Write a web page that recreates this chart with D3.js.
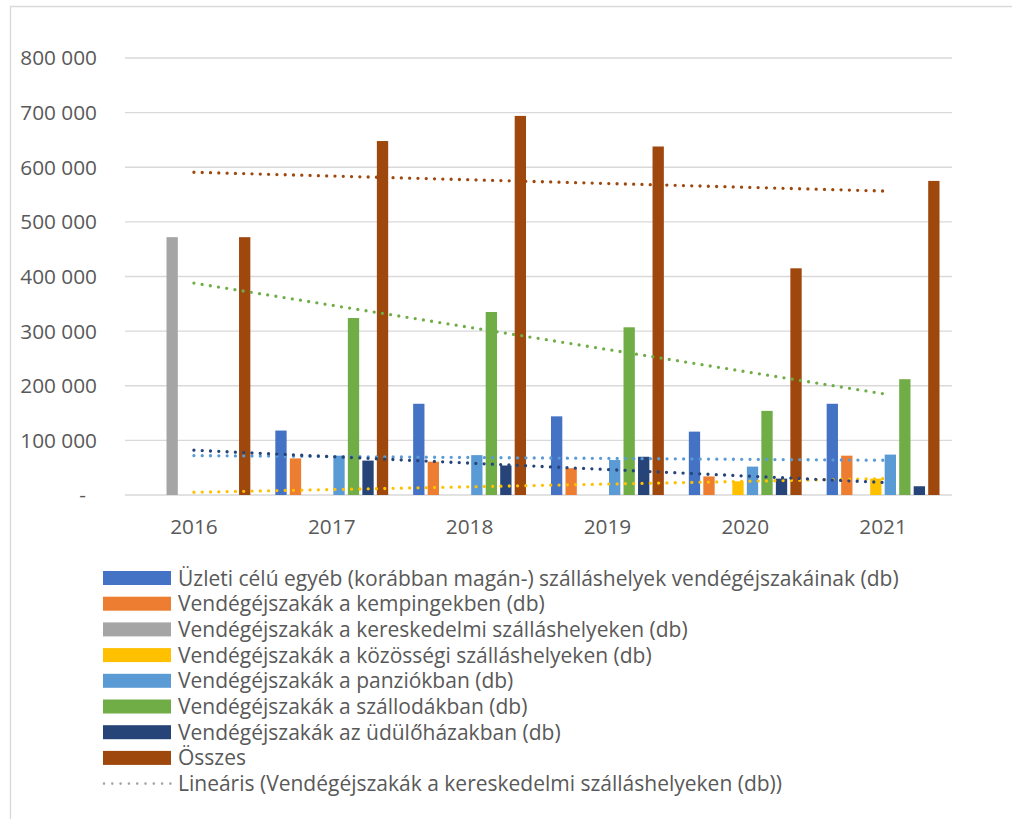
<!DOCTYPE html>
<html>
<head>
    <meta charset="utf-8">
    <script src="https://d3js.org/d3.v7.min.js"></script>
    <style>
        body { margin: 0; background: #fff; overflow: hidden; }
        text { font-family: 'Open Sans', Lato, sans-serif; fill: #595959; }
        .grid line { stroke: #d9d9d9; stroke-width: 1.3px; }
    </style>
</head>
<body>
<svg width="1012" height="819"></svg>
<script>
// DATA ========================================================
const years = ["2016", "2017", "2018", "2019", "2020", "2021"];

const seriesNames = [
    "Üzleti célú egyéb (korábban magán-) szálláshelyek vendégéjszakáinak (db)",
    "Vendégéjszakák a kempingekben (db)",
    "Vendégéjszakák a kereskedelmi szálláshelyeken (db)",
    "Vendégéjszakák a közösségi szálláshelyeken (db)",
    "Vendégéjszakák a panziókban (db)",
    "Vendégéjszakák a szállodákban (db)",
    "Vendégéjszakák az üdülőházakban (db)",
    "Összes"
];

const uzleti      = [null, 118000, 167000, 144000, 116000, 167000];
const kemping     = [null,  67000,  61000,  49000,  34000,  72000];
const kereskedelmi= [472000, null, null, null, null, null];
const kozossegi   = [null, null, null, null, 25000, 30000];
const panzio      = [null,  72000,  73000,  64000,  52000,  74000];
const szalloda    = [null, 324000, 335000, 307000, 154000, 212000];
const udulohaz    = [null,  63000,  54000,  70000,  30000,  16000];
const osszes      = [472000, 648000, 694000, 638000, 415000, 575000];

const seriesValues = [uzleti, kemping, kereskedelmi, kozossegi, panzio, szalloda, udulohaz, osszes];
const colors = ["#4472C4", "#ED7D31", "#A5A5A5", "#FFC000", "#5B9BD5", "#70AD47", "#264478", "#9E480E"];

// series (by index) that carry a linear trend line in the chart
const trendSeries = [3, 4, 5, 6, 7];
const trendLegend = "Lineáris (Vendégéjszakák a kereskedelmi szálláshelyeken (db))";

const yTicks = [0, 100000, 200000, 300000, 400000, 500000, 600000, 700000, 800000];

// SETUP =======================================================
const svg = d3.select("svg");
const plot = { left: 125, right: 952, top: 58, bottom: 495 };

const x0 = d3.scaleBand()
    .domain(years)
    .range([plot.left, plot.right])
    .paddingInner(0.158)
    .paddingOuter(0.079);

const x1 = d3.scaleBand()
    .domain(d3.range(seriesNames.length))
    .range([0, x0.bandwidth()])
    .paddingInner(0.22)
    .paddingOuter(0.11);

const y = d3.scaleLinear()
    .domain([0, 800000])
    .range([plot.bottom, plot.top]);

const fmt = d3.formatLocale({ decimal: ",", thousands: " ", grouping: [3], currency: ["", ""] }).format(",");

// chart border (cropped on the right / bottom)
svg.append("path")
    .attr("d", "M10.5,830 V6.5 H1020")
    .attr("fill", "none")
    .attr("stroke", "#d9d9d9")
    .attr("stroke-width", 1.3);

// GRID + Y AXIS ===============================================
const grid = svg.append("g").attr("class", "grid");
grid.selectAll("line")
    .data(yTicks)
    .join("line")
    .attr("x1", plot.left)
    .attr("x2", plot.right)
    .attr("y1", d => y(d))
    .attr("y2", d => y(d));

svg.append("g")
    .selectAll("text")
    .data(yTicks)
    .join("text")
    .attr("x", d => d === 0 ? 86 : 97)
    .attr("y", d => y(d))
    .attr("dy", "0.36em")
    .attr("text-anchor", "end")
    .style("font-size", "20.8px")
    .text(d => d === 0 ? "-" : fmt(d));

// X AXIS LABELS ===============================================
svg.append("g")
    .selectAll("text")
    .data(years)
    .join("text")
    .attr("x", d => x0(d) + x0.bandwidth() / 2)
    .attr("y", 534)
    .attr("text-anchor", "middle")
    .style("font-size", "20.8px")
    .text(d => d);

// BARS ========================================================
const groups = svg.append("g")
    .selectAll("g")
    .data(years)
    .join("g")
    .attr("transform", d => `translate(${x0(d)},0)`);

groups.selectAll("rect")
    .data((yr, i) => seriesValues.map((vals, s) => ({ s, v: vals[i] })).filter(d => d.v != null))
    .join("rect")
    .attr("x", d => x1(d.s))
    .attr("width", x1.bandwidth())
    .attr("y", d => y(d.v))
    .attr("height", d => y(0) - y(d.v))
    .attr("fill", d => colors[d.s]);

// TREND LINES =================================================
function linearFit(vals) {
    const pts = vals.map((v, i) => [i, v]).filter(p => p[1] != null);
    const mx = d3.mean(pts, p => p[0]);
    const my = d3.mean(pts, p => p[1]);
    const sxy = d3.sum(pts, p => (p[0] - mx) * (p[1] - my));
    const sxx = d3.sum(pts, p => (p[0] - mx) ** 2);
    const slope = sxy / sxx;
    return i => my + slope * (i - mx);
}

const cx = i => x0(years[i]) + x0.bandwidth() / 2;

trendSeries.forEach(s => {
    const f = linearFit(seriesValues[s]);
    const last = years.length - 1;
    svg.append("line")
        .attr("x1", cx(0))
        .attr("y1", y(f(0)))
        .attr("x2", cx(last))
        .attr("y2", y(f(last)))
        .attr("stroke", colors[s])
        .attr("stroke-width", 3.3)
        .attr("stroke-linecap", "round")
        .attr("stroke-dasharray", "0 8.3");
});

// LEGEND ======================================================
const legend = svg.append("g").attr("transform", "translate(103,578)");
const rowH = 25.7;

seriesNames.forEach((name, i) => {
    legend.append("rect")
        .attr("x", 0)
        .attr("y", i * rowH - 7)
        .attr("width", 68)
        .attr("height", 14)
        .attr("fill", colors[i]);
    legend.append("text")
        .attr("x", 75)
        .attr("y", i * rowH)
        .attr("dy", "0.36em")
        .style("font-size", "21px")
        .text(name);
});

const tr = seriesNames.length;
legend.append("line")
    .attr("x1", 1)
    .attr("x2", 68)
    .attr("y1", tr * rowH)
    .attr("y2", tr * rowH)
    .attr("stroke", "#A5A5A5")
    .attr("stroke-width", 2.6)
    .attr("stroke-linecap", "round")
    .attr("stroke-dasharray", "0 8.3");
legend.append("text")
    .attr("x", 75)
    .attr("y", tr * rowH)
    .attr("dy", "0.36em")
    .style("font-size", "21px")
    .text(trendLegend);
</script>
</body>
</html>
